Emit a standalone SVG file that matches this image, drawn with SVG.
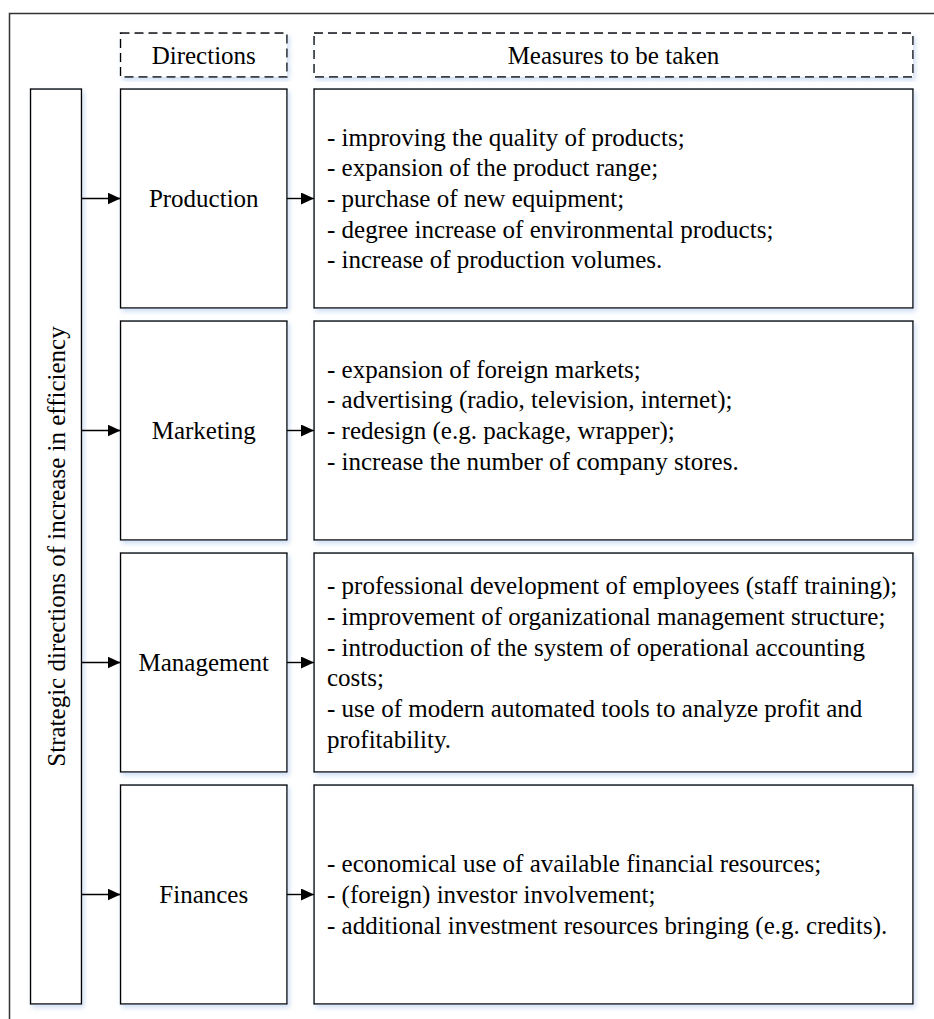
<svg xmlns="http://www.w3.org/2000/svg" width="934" height="1019" viewBox="0 0 934 1019">
<style>
text{font-family:"Liberation Serif","Times New Roman",serif;font-size:25px;fill:#000}
.box{fill:#fff;stroke:#000;stroke-width:1.4;filter:url(#sh)}
.dash{fill:#fff;stroke:#000;stroke-width:1.4;stroke-dasharray:9 5;filter:url(#sh)}
.c{text-anchor:middle}
.conn{stroke:#000;stroke-width:1.4;fill:none;marker-end:url(#ah)}
</style>
<defs>
<filter id="sh" x="-10%" y="-10%" width="120%" height="120%">
<feGaussianBlur in="SourceAlpha" stdDeviation="2.5"/>
<feOffset dx="2" dy="3" result="b"/>
<feFlood flood-color="#aac4ea" flood-opacity="0.55"/>
<feComposite in2="b" operator="in"/>
<feMerge><feMergeNode/><feMergeNode in="SourceGraphic"/></feMerge>
</filter>
<marker id="ah" viewBox="0 0 13 12" refX="13" refY="6" markerWidth="13" markerHeight="12" markerUnits="userSpaceOnUse" orient="auto">
<path d="M0,0 L13,6 L0,12 Z" fill="#000"/>
</marker>
</defs>
<rect width="934" height="1019" fill="#fff"/>
<path d="M9.5,1019 V13.5 H934" fill="none" stroke="#333" stroke-width="1.5"/>

<g id="header-directions">
<rect class="dash" x="120.5" y="33" width="166.5" height="44"/>
<text class="c" x="203.75" y="63.5">Directions</text>
</g>
<g id="header-measures">
<rect class="dash" x="314" y="33" width="599" height="44"/>
<text class="c" x="613.5" y="63.5">Measures to be taken</text>
</g>

<g id="strategic">
<rect class="box" x="30.5" y="89" width="51" height="915"/>
<text class="c" transform="translate(64.5,546.5) rotate(-90)">Strategic directions of increase in efficiency</text>
</g>

<g id="production">
<rect class="box" x="120.5" y="89" width="166.5" height="219"/>
<text class="c" x="203.75" y="207">Production</text>
</g>
<g id="production-measures">
<rect class="box" x="314" y="89" width="599" height="219"/>
<text x="327" y="145.6">- improving the quality of products;</text>
<text x="327" y="176.3">- expansion of the product range;</text>
<text x="327" y="207">- purchase of new equipment;</text>
<text x="327" y="237.7">- degree increase of environmental products;</text>
<text x="327" y="268.4">- increase of production volumes.</text>
</g>

<g id="marketing">
<rect class="box" x="120.5" y="321" width="166.5" height="219"/>
<text class="c" x="203.75" y="439">Marketing</text>
</g>
<g id="marketing-measures">
<rect class="box" x="314" y="321" width="599" height="219"/>
<text x="327" y="377.6">- expansion of foreign markets;</text>
<text x="327" y="408.3">- advertising (radio, television, internet);</text>
<text x="327" y="439">- redesign (e.g. package, wrapper);</text>
<text x="327" y="469.7">- increase the number of company stores.</text>
</g>

<g id="management">
<rect class="box" x="120.5" y="553" width="166.5" height="219"/>
<text class="c" x="203.75" y="671">Management</text>
</g>
<g id="management-measures">
<rect class="box" x="314" y="553" width="599" height="219"/>
<text x="327" y="594.3">- professional development of employees (staff training);</text>
<text x="327" y="625">- improvement of organizational management structure;</text>
<text x="327" y="655.7">- introduction of the system of operational accounting</text>
<text x="327" y="686.4">costs;</text>
<text x="327" y="717.1">- use of modern automated tools to analyze profit and</text>
<text x="327" y="747.8">profitability.</text>
</g>

<g id="finances">
<rect class="box" x="120.5" y="785" width="166.5" height="219"/>
<text class="c" x="203.75" y="903">Finances</text>
</g>
<g id="finances-measures">
<rect class="box" x="314" y="785" width="599" height="219"/>
<text x="327" y="872.3">- economical use of available financial resources;</text>
<text x="327" y="903">- (foreign) investor involvement;</text>
<text x="327" y="933.7">- additional investment resources bringing (e.g. credits).</text>
</g>

<g id="connectors">
<line class="conn" x1="81.5" y1="198.5" x2="120.5" y2="198.5"/>
<line class="conn" x1="287" y1="198.5" x2="314" y2="198.5"/>
<line class="conn" x1="81.5" y1="430.5" x2="120.5" y2="430.5"/>
<line class="conn" x1="287" y1="430.5" x2="314" y2="430.5"/>
<line class="conn" x1="81.5" y1="662.5" x2="120.5" y2="662.5"/>
<line class="conn" x1="287" y1="662.5" x2="314" y2="662.5"/>
<line class="conn" x1="81.5" y1="894.5" x2="120.5" y2="894.5"/>
<line class="conn" x1="287" y1="894.5" x2="314" y2="894.5"/>
</g>
</svg>
